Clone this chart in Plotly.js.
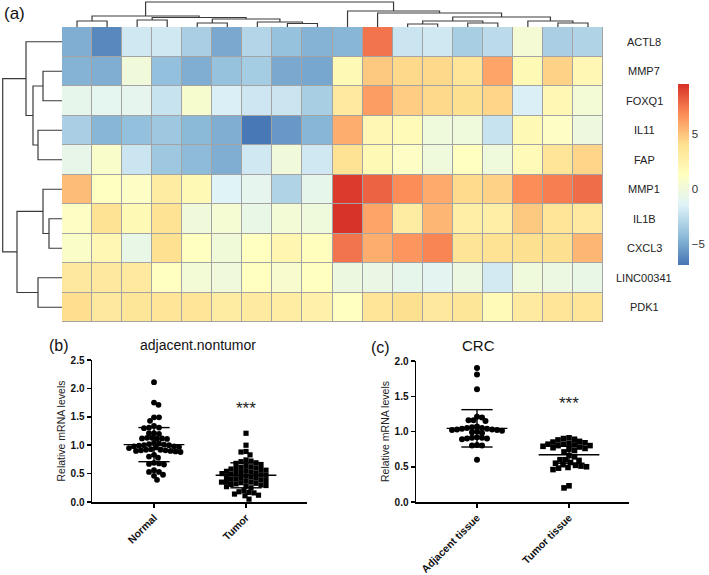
<!DOCTYPE html>
<html><head><meta charset="utf-8">
<script src="https://cdn.plot.ly/plotly-3.0.1.min.js"></script>
<style>html,body{margin:0;padding:0;background:#fff}#chart{width:709px;height:575px}</style>
</head><body><div id="chart"></div>
<script>
// ---------- DATA ----------
const genes = ["ACTL8","MMP7","FOXQ1","IL11","FAP","MMP1","IL1B","CXCL3","LINC00341","PDK1"];
const samples = ["S1","S2","S3","S4","S5","S6","S7","S8","S9","S10","S11","S12","S13","S14","S15","S16","S17","S18"];
const expr_ACTL8     = [-4.8,-6.2,-2.0,-2.0,-3.3,-5.0,-3.0,-4.0,-4.6,-4.5,7.5,-2.2,-2.0,-3.4,-2.7,0.3,-3.3,-3.1];
const expr_MMP7      = [-4.6,-4.8,0.0,-4.1,-4.8,-4.0,-3.5,-5.0,-5.1,1.8,4.8,4.3,4.3,3.6,6.0,1.8,4.5,2.0];
const expr_FOXQ1     = [-0.8,-1.0,-0.9,-2.3,0.6,-1.6,-2.1,-2.2,-3.4,3.2,6.2,4.7,4.3,4.0,4.4,-1.6,2.0,0.2];
const expr_IL11      = [-3.3,-4.5,-4.1,-3.7,-4.4,-4.8,-6.8,-5.6,-4.5,5.7,2.0,1.7,-0.1,-0.1,-2.3,1.8,1.0,-0.2];
const expr_FAP       = [-0.7,0.8,-2.2,-3.7,-4.3,-4.8,-2.0,0.0,-2.0,3.8,1.8,1.0,-0.1,1.3,-0.1,1.7,3.6,4.4];
const expr_MMP1      = [5.2,1.3,1.0,3.0,1.8,-1.4,-0.9,-3.1,-0.8,9.2,8.0,6.8,5.8,4.2,4.5,6.8,7.2,7.7];
const expr_IL1B      = [1.1,3.8,1.8,3.8,0.0,0.4,-0.6,0.2,-0.1,9.4,6.0,3.0,5.4,2.7,2.7,4.8,3.6,3.2];
const expr_CXCL3     = [0.9,2.0,-0.6,3.9,1.3,0.1,1.3,2.1,1.4,7.5,5.7,6.5,7.0,3.7,3.8,4.0,4.0,5.4];
const expr_LINC00341 = [3.3,3.3,3.2,1.2,0.2,0.0,1.3,0.7,1.3,-0.3,-0.5,-0.8,-1.1,-0.4,-1.9,-0.1,-0.4,-0.6];
const expr_PDK1      = [4.1,3.3,3.5,3.6,3.6,3.0,3.1,2.9,2.5,1.2,3.6,4.0,3.3,3.5,1.7,3.1,3.6,3.6];
const colorTicks = [-5, 0, 5];

// hclust-style merges: negative = leaf (1-based), positive = earlier merge (1-based)
const colMergeA = [-8,-7,-5, 3,-3, 5,-1, 7,-12,-14, 9,-17,-16,11,-11,-10, 8];
const colMergeB = [-9, 1,-6, 2,-4, 4,-2, 6,-13,-15,10,-18, 12,13, 14, 15,16];
const colMergeH = [3.5,5,4,8,7,9.5,6,11,3,4,6,4,6,10,14,16,25];
const rowMergeA = [-2,-4, 1,-1,-7,-6,-9, 6, 4];
const rowMergeB = [-3,-5, 2, 3,-8, 5,-10,7, 8];
const rowMergeH = [19,24,29,36,13,19,24,45,59.3];

// panel (b)
const bGroups = ["Normal","Tumor"];
const normalVals = [2.11,1.75,1.71,1.49,1.49,1.43,1.34,1.31,1.31,1.30,1.21,1.21,1.20,1.13,1.13,1.12,1.12,1.12,1.11,1.04,1.03,1.02,1.01,1.00,1.00,0.99,0.98,0.98,0.97,0.96,0.95,0.93,0.92,0.92,0.91,0.91,0.90,0.90,0.89,0.88,0.83,0.80,0.78,0.69,0.68,0.67,0.66,0.56,0.53,0.53,0.48,0.46,0.39];
const tumorVals = [1.21,1.00,0.89,0.88,0.83,0.74,0.72,0.71,0.69,0.68,0.66,0.64,0.62,0.61,0.60,0.59,0.58,0.57,0.56,0.55,0.54,0.53,0.52,0.51,0.50,0.50,0.49,0.48,0.47,0.46,0.45,0.44,0.43,0.42,0.41,0.40,0.39,0.38,0.37,0.36,0.35,0.35,0.34,0.33,0.32,0.31,0.30,0.29,0.28,0.27,0.25,0.20,0.18,0.17,0.16,0.14,0.12,0.11,0.05];
const bMean = [1.01, 0.47];
const bSD   = [0.30, 0.22];
// panel (c)
const cGroups = ["Adjacent tissue","Tumor tissue"];
const adjacentVals = [1.90,1.81,1.60,1.21,1.20,1.16,1.16,1.15,1.07,1.06,1.05,1.05,1.04,1.04,1.03,1.03,1.02,1.02,1.01,1.00,0.99,0.98,0.92,0.91,0.91,0.90,0.90,0.89,0.81,0.80,0.80,0.60];
const tumorTissueVals = [0.91,0.90,0.89,0.88,0.86,0.85,0.84,0.83,0.82,0.82,0.81,0.80,0.80,0.79,0.78,0.77,0.76,0.75,0.73,0.71,0.66,0.64,0.60,0.60,0.59,0.56,0.55,0.53,0.52,0.51,0.50,0.49,0.48,0.46,0.23,0.20];
const cMean = [1.045, 0.67];
const cSD   = [0.265, 0.12];

// ---------- HELPERS ----------
const W = 709, H = 575;
const px = v => v / W, py = v => 1 - v / H;
const FONT = "Liberation Sans, Arial, sans-serif";

function dendroLines(A, B, Hh, horizontal) {
  const pos = [], hgt = [];
  const xs = [], ys = [];
  const get = k => k < 0 ? [(-k) - 1, 0] : [pos[k-1], hgt[k-1]];
  for (let i = 0; i < A.length; i++) {
    const [pa, ha] = get(A[i]); const [pb, hb] = get(B[i]); const h = Hh[i];
    const seg = [[pa, ha], [pa, h], [pb, h], [pb, hb]];
    seg.forEach(([p, q]) => { if (horizontal) { xs.push(q); ys.push(p); } else { xs.push(p); ys.push(q); } });
    xs.push(null); ys.push(null);
    pos.push((pa + pb) / 2); hgt.push(h);
  }
  return {xs, ys};
}

function swarm(vals, pxPerUnit, dist) {
  const order = vals.map((v, i) => i).sort((a, b) => vals[b] - vals[a]);
  const placed = []; const off = new Array(vals.length).fill(0);
  let flip = 1;
  order.forEach(i => {
    const y = vals[i] * pxPerUnit;
    for (let k = 0; k < 400; k++) {
      const cands = k === 0 ? [0] : [flip * k * 0.5, -flip * k * 0.5];
      let found = null;
      for (const c of cands) {
        if (placed.every(p => (p[0] - c) ** 2 + (p[1] - y) ** 2 >= dist * dist)) { found = c; break; }
      }
      if (found !== null) { off[i] = found; placed.push([found, y]); break; }
    }
    flip = -flip;
  });
  return off;
}

function groupTrace(vals, g, pxPerUnitY, pxPerUnitX, dist, symbol, size, xa, ya) {
  const off = swarm(vals, pxPerUnitY, dist);
  return {type: "scatter", mode: "markers", x: off.map(o => g + o / pxPerUnitX), y: vals,
    xaxis: xa, yaxis: ya, cliponaxis: false, hoverinfo: "skip",
    marker: {symbol: symbol, size: size, color: "#000", line: {width: 0}}};
}

function errTrace(means, sds, xa, ya) {
  const xs = [], ys = [];
  means.forEach((m, g) => {
    const s = sds[g];
    xs.push(g - 0.33, g + 0.33, null); ys.push(m, m, null);
    xs.push(g, g, null); ys.push(m - s, m + s, null);
    xs.push(g - 0.17, g + 0.17, null); ys.push(m + s, m + s, null);
    xs.push(g - 0.17, g + 0.17, null); ys.push(m - s, m - s, null);
  });
  return {type: "scatter", mode: "lines", x: xs, y: ys, xaxis: xa, yaxis: ya, hoverinfo: "skip",
    line: {color: "#000", width: 1.4}, cliponaxis: false};
}

// ---------- TRACES ----------
const z = [expr_ACTL8, expr_MMP7, expr_FOXQ1, expr_IL11, expr_FAP, expr_MMP1, expr_IL1B, expr_CXCL3, expr_LINC00341, expr_PDK1];
const rdylbu = ["#4575B4","#91BFDB","#E0F3F8","#FFFFBF","#FEE090","#FC8D59","#D73027"];
const cscale = rdylbu.map((c, i) => [i / (rdylbu.length - 1), c]);

const heat = {type: "heatmap", z: z, x: samples.map((s, i) => i), y: genes.map((g, i) => i),
  xaxis: "x", yaxis: "y", colorscale: cscale, zmin: -6.9, zmax: 9.5, xgap: 1, ygap: 1, hoverinfo: "skip",
  colorbar: {x: 678 / W, xanchor: "left", y: py(174.5), yanchor: "middle", len: 181, lenmode: "pixels",
    thickness: 11, thicknessmode: "pixels", outlinewidth: 0, xpad: 0, ypad: 0, ticks: "",
    tickvals: colorTicks, ticktext: colorTicks.map(v => v < 0 ? "\u2212" + Math.abs(v) : String(v)),
    tickfont: {family: FONT, size: 11.5, color: "#333"}}};

const cd = dendroLines(colMergeA, colMergeB, colMergeH, false);
const colDend = {type: "scatter", mode: "lines", x: cd.xs, y: cd.ys, xaxis: "x2", yaxis: "y2",
  hoverinfo: "skip", line: {color: "#3a3a3a", width: 1.2}};
const rd = dendroLines(rowMergeA, rowMergeB, rowMergeH, true);
const rowDend = {type: "scatter", mode: "lines", x: rd.xs, y: rd.ys, xaxis: "x3", yaxis: "y3",
  hoverinfo: "skip", line: {color: "#3a3a3a", width: 1.2}};

const bPxY = (502 - 360) / 2.5, cPxY = (502 - 361) / 2.0, pxX = 92;
const traces = [heat, colDend, rowDend,
  groupTrace(normalVals, 0, bPxY, pxX, 4.9, "circle", 5.8, "x4", "y4"),
  groupTrace(tumorVals, 1, bPxY, pxX, 4.9, "square", 5.2, "x4", "y4"),
  errTrace(bMean, bSD, "x4", "y4"),
  groupTrace(adjacentVals, 0, cPxY, pxX, 4.9, "circle", 6, "x5", "y5"),
  groupTrace(tumorTissueVals, 1, cPxY, pxX, 5.4, "square", 5.6, "x5", "y5"),
  errTrace(cMean, cSD, "x5", "y5")];

// ---------- LAYOUT ----------
const hidden = {visible: false, showgrid: false, zeroline: false, fixedrange: true};
const tickF = {family: FONT, size: 10, color: "#111", weight: "bold"};
function dotX(dom, rng, labels, ya) {
  return {domain: dom, range: rng, anchor: ya, tickmode: "array", tickvals: labels.map((l, i) => i), ticktext: labels,
    tickangle: -45, showline: true, linecolor: "#000", linewidth: 1.5, ticks: "outside", ticklen: 4, tickwidth: 1.5,
    tickcolor: "#000", showgrid: false, zeroline: false, tickfont: {family: FONT, size: 10.5, color: "#111", weight: "bold"}, fixedrange: true};
}
function dotY(dom, maxv, xa) {
  const tv = []; for (let v = 0; v <= maxv + 1e-9; v += 0.5) tv.push(Math.round(v * 10) / 10);
  return {domain: dom, range: [0, maxv], anchor: xa, tickmode: "array", tickvals: tv, ticktext: tv.map(v => v.toFixed(1)),
    showline: true, linecolor: "#000", linewidth: 1.5, ticks: "outside", ticklen: 4, tickwidth: 1.5, tickcolor: "#000",
    showgrid: false, zeroline: false, tickfont: tickF, fixedrange: true,
    title: {text: "Relative mRNA levels", font: {family: FONT, size: 10.5, color: "#222"}, standoff: 3}};
}

const ann = (text, x, y, size) => ({text: text, x: px(x), y: py(y), xref: "paper", yref: "paper", showarrow: false,
  xanchor: "center", yanchor: "middle", font: {family: FONT, size: size, color: "#111"}});
const annotations = [
  ann("(a)", 14, 13, 17), ann("(b)", 59, 346, 16), ann("(c)", 380, 347, 16),
  ann("adjacent.nontumor", 198, 345, 14), ann("CRC", 479, 345, 15),
  {text: "***", x: 1, y: 1.64, xref: "x4", yref: "y4", showarrow: false, xanchor: "center", font: {family: FONT, size: 17, color: "#222"}},
  {text: "***", x: 1, y: 1.40, xref: "x5", yref: "y5", showarrow: false, xanchor: "center", font: {family: FONT, size: 17, color: "#222"}}
];
genes.forEach((g, i) => annotations.push({text: g, x: px(644), y: i, xref: "paper", yref: "y", showarrow: false,
  xanchor: "center", font: {family: FONT, size: 11, color: "#222"}}));

const layout = {
  width: W, height: H, margin: {l: 0, r: 0, t: 0, b: 0}, paper_bgcolor: "#fff", plot_bgcolor: "rgba(0,0,0,0)",
  showlegend: false, font: {family: FONT},
  xaxis: Object.assign({}, hidden, {domain: [px(62), px(603)], range: [-0.5, 17.5], anchor: "y"}),
  yaxis: Object.assign({}, hidden, {domain: [py(322), py(27)], range: [9.5, -0.5], anchor: "x"}),
  xaxis2: Object.assign({}, hidden, {domain: [px(62), px(603)], range: [-0.5, 17.5], anchor: "y2"}),
  yaxis2: Object.assign({}, hidden, {domain: [py(27), 1], range: [0, 27], anchor: "x2"}),
  xaxis3: Object.assign({}, hidden, {domain: [0, px(62)], range: [62, 0], anchor: "y3"}),
  yaxis3: Object.assign({}, hidden, {domain: [py(322), py(27)], range: [9.5, -0.5], anchor: "x3"}),
  xaxis4: dotX([px(92), px(307)], [-0.674, 1.663], bGroups, "y4"),
  yaxis4: dotY([py(502), py(360)], 2.5, "x4"),
  xaxis5: dotX([px(416), px(629)], [-0.663, 1.652], cGroups, "y5"),
  yaxis5: dotY([py(502), py(361)], 2.0, "x5"),
  shapes: [{type: "rect", xref: "x", yref: "y", x0: -0.5, x1: 17.5, y0: -0.5, y1: 9.5, layer: "below",
    fillcolor: "#A3A3A3", line: {color: "#A3A3A3", width: 1}}],
  annotations: annotations
};

Plotly.newPlot("chart", traces, layout, {displayModeBar: false, staticPlot: true});
</script></body></html>
